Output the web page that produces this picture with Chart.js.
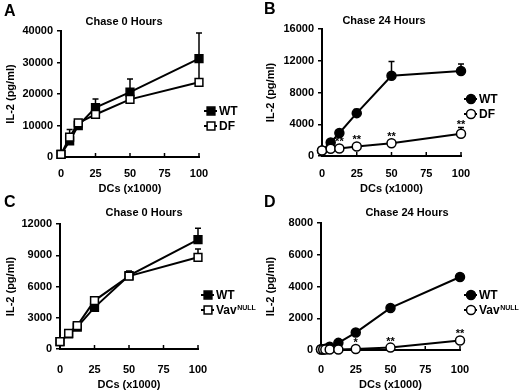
<!DOCTYPE html>
<html>
<head>
<meta charset="utf-8">
<script src="https://cdn.jsdelivr.net/npm/chart.js@4/dist/chart.umd.min.js"></script>
<style>
  body { margin: 0; background: #fff; }
  #wrap { position: relative; width: 520px; height: 392px; }
  canvas { position: absolute; }
</style>
</head>
<body>
<div id="wrap">
  <canvas id="cA" width="260" height="196" style="left:0;top:0"></canvas>
  <canvas id="cB" width="260" height="196" style="left:260px;top:0"></canvas>
  <canvas id="cC" width="260" height="204" style="left:0;top:188px"></canvas>
  <canvas id="cD" width="260" height="204" style="left:260px;top:188px"></canvas>
</div>
<script>
// DCs (x1000) on the x axis
const dcs = [0, 6.25, 12.5, 25, 50, 100];
const dcsD = [0, 1.5625, 3.125, 6.25, 12.5, 25, 50, 100];

// A - chase 0 hours, WT vs DF
const wtA = [800, 5100, 10000, 15700, 20600, 31200];
const wtAErr = [0, 0, 0, 2700, 4200, 8200];
const dfA = [800, 6300, 10800, 13500, 18300, 23700];
const dfAErr = [0, 2400, 0, 0, 0, 6500];

// B - chase 24 hours, WT vs DF
const wtB = [700, 1700, 2900, 5400, 10100, 10700];
const wtBErr = [0, 0, 0, 500, 1800, 900];
const dfB = [700, 900, 950, 1200, 1600, 2800];
const dfBErr = [0, 0, 0, 0, 0, 800];
const sigB = ['', '', '**', '**', '**', '**'];

// C - chase 0 hours, WT vs Vav null
const wtC = [700, 1450, 2100, 4000, 7050, 10500];
const wtCErr = [0, 0, 0, 0, 450, 1100];
const vavC = [700, 1500, 2250, 4650, 7000, 8800];
const vavCErr = [0, 0, 0, 0, 0, 800];

// D - chase 24 hours, WT vs Vav null
const wtD = [50, 50, 80, 200, 450, 1100, 2650, 4600];
const vavD = [30, 30, 30, 30, 30, 60, 150, 600];
const sigD = ['', '', '', '', '', '*', '**', '**'];

const yTicksA = [0, 40000, 10000];
const yTicksB = [0, 16000, 4000];
const yTicksC = [0, 12000, 3000];
const yTicksD = [0, 8000, 2000];

const FONT = "'Liberation Sans', Arial, sans-serif";
Chart.defaults.font.family = FONT;
Chart.defaults.font.weight = 'bold';
Chart.defaults.color = '#000';

function pts(xs, ys) {
  return xs.map((x, i) => ({ x: x, y: ys[i] }));
}

const decor = {
  id: 'decor',
  beforeDatasetsDraw(chart) {
    const ctx = chart.ctx, sx = chart.scales.x, sy = chart.scales.y;
    const area = chart.chartArea;
    ctx.save();
    ctx.strokeStyle = '#000';
    ctx.lineWidth = 1.5;
    // inward x tick marks (under the markers)
    [25, 50, 75, 100].forEach(v => {
      const px = sx.getPixelForValue(v);
      ctx.beginPath();
      ctx.moveTo(px, area.bottom); ctx.lineTo(px, area.bottom - 4);
      ctx.stroke();
    });
    // error bars, upper half only
    chart.data.datasets.forEach(ds => {
      (ds.err || []).forEach((e, i) => {
        if (!e) return;
        const px = sx.getPixelForValue(ds.data[i].x);
        const p0 = sy.getPixelForValue(ds.data[i].y);
        const p1 = sy.getPixelForValue(ds.data[i].y + e);
        ctx.beginPath();
        ctx.moveTo(px, p0); ctx.lineTo(px, p1);
        ctx.moveTo(px - 3, p1); ctx.lineTo(px + 3, p1);
        ctx.stroke();
      });
    });
    ctx.restore();
  },
  afterDraw(chart, args, o) {
    const ctx = chart.ctx, sx = chart.scales.x, sy = chart.scales.y;
    ctx.save();
    ctx.fillStyle = '#000';
    ctx.strokeStyle = '#000';

    // significance stars
    ctx.font = 'bold 11px ' + FONT;
    ctx.textAlign = 'center';
    ctx.textBaseline = 'alphabetic';
    chart.data.datasets.forEach(ds => {
      (ds.sig || []).forEach((s, i) => {
        if (!s) return;
        const e = ds.err ? ds.err[i] : 0;
        const px = sx.getPixelForValue(ds.data[i].x);
        const py = e ? sy.getPixelForValue(ds.data[i].y + e) + 1 : sy.getPixelForValue(ds.data[i].y) - 3;
        ctx.fillText(s, px, py);
      });
    });

    // panel letter
    ctx.textAlign = 'left';
    ctx.font = 'bold 16px ' + FONT;
    ctx.fillText(o.letter, o.letterX, o.letterY);

    // panel title
    ctx.textAlign = 'center';
    ctx.textBaseline = 'middle';
    ctx.font = 'bold 11px ' + FONT;
    ctx.fillText(o.title, o.titleX, o.titleY);

    // legend
    chart.data.datasets.forEach((ds, k) => {
      const ry = o.legY[k];
      ctx.strokeStyle = '#000';
      ctx.lineWidth = 2;
      ctx.beginPath();
      ctx.moveTo(o.legX, ry); ctx.lineTo(o.legX + 13, ry);
      ctx.stroke();
      ctx.fillStyle = ds.pointBackgroundColor;
      ctx.lineWidth = ds.pointBorderWidth;
      ctx.beginPath();
      if (ds.pointStyle === 'rect') {
        const h = ds.pointRadius * Math.SQRT1_2;
        ctx.rect(o.legX + 7 - h, ry - h, 2 * h, 2 * h);
      } else {
        ctx.arc(o.legX + 7, ry, ds.pointRadius, 0, Math.PI * 2);
      }
      ctx.fill(); ctx.stroke();
      ctx.fillStyle = '#000';
      ctx.textAlign = 'left';
      ctx.textBaseline = 'middle';
      ctx.font = 'bold 12px ' + FONT;
      ctx.fillText(ds.label, o.legX + 15, ry + 1);
      if (ds.sup) {
        const w = ctx.measureText(ds.label).width;
        ctx.font = 'bold 7px ' + FONT;
        ctx.fillText(ds.sup, o.legX + 15 + w + 0.5, ry - 2);
      }
    });
    ctx.restore();
  }
};

function series(label, sup, xs, ys, err, sig, filled, style, order) {
  return {
    label: label,
    sup: sup,
    data: pts(xs, ys),
    err: err,
    sig: sig,
    borderColor: '#000',
    borderWidth: 2,
    pointStyle: style,
    pointRadius: style === 'rect' ? 5.5 : 4.5,
    pointBorderWidth: 1.5,
    pointBorderColor: '#000',
    pointBackgroundColor: filled ? '#000' : '#fff',
    pointHoverRadius: 0,
    clip: false,
    order: order,
    tension: 0
  };
}

function makePanel(id, g, yt, datasets) {
  const H = document.getElementById(id).height;
  new Chart(document.getElementById(id), {
    type: 'line',
    data: { datasets: datasets },
    plugins: [decor],
    options: {
      responsive: false,
      animation: false,
      events: [],
      layout: { padding: { left: 0, right: 260 - g.right, top: g.top, bottom: 0 } },
      scales: {
        x: {
          type: 'linear',
          min: 0, max: 100,
          afterFit: s => { s.height = H - g.bottom; },
          ticks: { stepSize: 25, padding: g.labPad, font: { size: 11, weight: 'bold' }, color: '#000' },
          grid: { display: true, drawOnChartArea: false, drawTicks: false },
          border: { display: true, color: '#000', width: 2 },
          title: { display: true, text: 'DCs (x1000)', padding: { top: 0, bottom: 0 }, font: { size: 11, weight: 'bold' }, color: '#000' }
        },
        y: {
          min: yt[0], max: yt[1],
          afterFit: s => { s.width = g.left; },
          ticks: { stepSize: yt[2], padding: 4, font: { size: 11, weight: 'bold' }, color: '#000',
            callback: v => String(v) },
          grid: { display: true, drawOnChartArea: false, drawTicks: true, tickLength: 4, color: '#000', lineWidth: 1.5 },
          border: { display: true, color: '#000', width: 2 },
          title: { display: true, text: 'IL-2 (pg/ml)', padding: { top: 4, bottom: 0 }, font: { size: 11, weight: 'bold' }, color: '#000' }
        }
      },
      plugins: {
        legend: { display: false },
        tooltip: { enabled: false },
        decor: g.decor
      }
    }
  });
}

makePanel('cA', { left: 61, right: 199, top: 31, bottom: 157, labPad: 10,
  decor: { letter: 'A', letterX: 4, letterY: 16, title: 'Chase 0 Hours', titleX: 124, titleY: 22, legX: 204, legY: [111, 126] } },
  yTicksA, [
    series('WT', '', dcs, wtA, wtAErr, null, true, 'rect', 1),
    series('DF', '', dcs, dfA, dfAErr, null, false, 'rect', 0)
  ]);

makePanel('cB', { left: 62, right: 201, top: 29, bottom: 156, labPad: 11,
  decor: { letter: 'B', letterX: 4, letterY: 14, title: 'Chase 24 Hours', titleX: 124, titleY: 21, legX: 204, legY: [99, 114] } },
  yTicksB, [
    series('WT', '', dcs, wtB, wtBErr, null, true, 'circle', 1),
    series('DF', '', dcs, dfB, dfBErr, sigB, false, 'circle', 0)
  ]);

makePanel('cC', { left: 60, right: 198, top: 36, bottom: 161, labPad: 14,
  decor: { letter: 'C', letterX: 4, letterY: 19, title: 'Chase 0 Hours', titleX: 144, titleY: 25, legX: 201, legY: [107, 122] } },
  yTicksC, [
    series('WT', '', dcs, wtC, wtCErr, null, true, 'rect', 1),
    series('Vav', 'NULL', dcs, vavC, vavCErr, null, false, 'rect', 0)
  ]);

makePanel('cD', { left: 61, right: 200, top: 35, bottom: 162, labPad: 13,
  decor: { letter: 'D', letterX: 4, letterY: 19, title: 'Chase 24 Hours', titleX: 147, titleY: 25, legX: 204, legY: [107, 122] } },
  yTicksD, [
    series('WT', '', dcsD, wtD, null, null, true, 'circle', 1),
    series('Vav', 'NULL', dcsD, vavD, null, sigD, false, 'circle', 0)
  ]);
</script>
</body>
</html>
